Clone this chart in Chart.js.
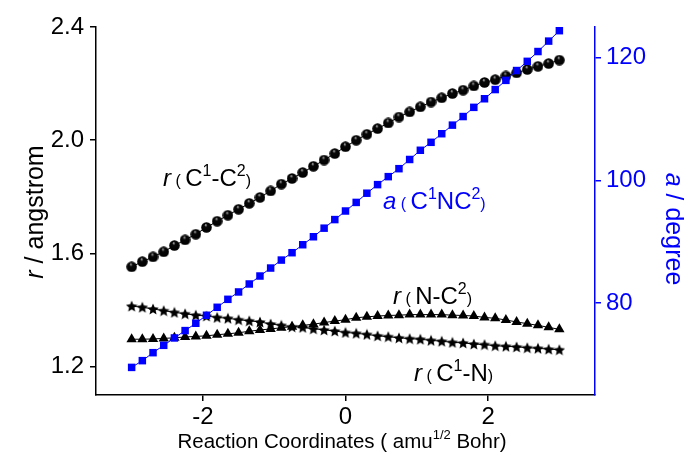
<!DOCTYPE html>
<html>
<head>
<meta charset="utf-8">
<script src="https://cdn.jsdelivr.net/npm/chart.js@4"></script>
<style>
  html, body { margin: 0; padding: 0; background: #fff; }
  #c { display: block; }
</style>
</head>
<body>
<canvas id="c" width="684" height="455"></canvas>
<script>
// ===== DATA =====
const coords = [-3, -2.85, -2.7, -2.55, -2.4, -2.25, -2.1, -1.95, -1.8, -1.65, -1.5, -1.35, -1.2, -1.05, -0.9, -0.75, -0.6, -0.45, -0.3, -0.15,
  0, 0.15, 0.3, 0.45, 0.6, 0.75, 0.9, 1.05, 1.2, 1.35, 1.5, 1.65, 1.8, 1.95, 2.1, 2.25, 2.4, 2.55, 2.7, 2.85, 3];

// r(C1-C2), angstrom
const rC1C2 = [1.553, 1.571, 1.588, 1.606, 1.628, 1.648, 1.668, 1.692, 1.714, 1.735, 1.756, 1.777, 1.798, 1.821, 1.845, 1.865, 1.886, 1.908, 1.930, 1.953,
  1.977, 2.000, 2.021, 2.041, 2.061, 2.082, 2.100, 2.118, 2.135, 2.150, 2.165, 2.177, 2.192, 2.204, 2.214, 2.227, 2.238, 2.250, 2.261, 2.271, 2.283];

// r(C1-N), angstrom
const rC1N = [1.414, 1.410, 1.404, 1.398, 1.392, 1.387, 1.382, 1.379, 1.374, 1.371, 1.366, 1.362, 1.358, 1.351, 1.346, 1.341, 1.339, 1.334, 1.330, 1.326,
  1.321, 1.318, 1.314, 1.309, 1.306, 1.302, 1.299, 1.297, 1.293, 1.290, 1.286, 1.284, 1.280, 1.278, 1.274, 1.272, 1.270, 1.267, 1.265, 1.262, 1.260];

// r(N-C2), angstrom
const rNC2 = [1.297, 1.297, 1.298, 1.300, 1.302, 1.305, 1.307, 1.309, 1.313, 1.316, 1.320, 1.325, 1.330, 1.333, 1.338, 1.341, 1.346, 1.350, 1.356, 1.361,
  1.366, 1.373, 1.376, 1.379, 1.381, 1.382, 1.384, 1.384, 1.384, 1.384, 1.382, 1.381, 1.379, 1.374, 1.371, 1.365, 1.358, 1.352, 1.346, 1.339, 1.332];

// a(C1NC2), degree
const aC1NC2 = [69.5, 70.6, 71.9, 73.1, 74.3, 75.5, 76.7, 78.0, 79.3, 80.6, 81.8, 83.1, 84.4, 85.7, 87.0, 88.2, 89.5, 90.8, 92.2, 93.6,
  95.0, 96.4, 97.9, 99.3, 100.6, 101.9, 103.4, 104.9, 106.2, 107.6, 109.0, 110.4, 111.9, 113.3, 114.8, 116.3, 117.9, 119.4, 121.0, 122.7, 124.4];

const xTicks = [-2, 0, 2];
const rTicks = [1.2, 1.6, 2.0, 2.4];
const aTicks = [80, 100, 120];

const FONT = "'Liberation Sans', Arial, sans-serif";
const BLUE = "#0000ff";

// ===== MARKERS =====
function makeBall(d) {
  const c = document.createElement("canvas");
  c.width = c.height = d;
  const g = c.getContext("2d");
  const r = d / 2;
  const grad = g.createRadialGradient(r * 0.85, r * 0.5, 0, r, r, r);
  grad.addColorStop(0, "#ffffff");
  grad.addColorStop(0.12, "#777");
  grad.addColorStop(0.3, "#080808");
  grad.addColorStop(1, "#000");
  g.fillStyle = grad;
  g.beginPath();
  g.arc(r, r, r - 0.2, 0, Math.PI * 2);
  g.fill();
  return c;
}

function makeStar(d) {
  const c = document.createElement("canvas");
  c.width = c.height = d;
  const g = c.getContext("2d");
  const cx = d / 2, cy = d / 2 + 0.6;
  g.fillStyle = "#000";
  g.beginPath();
  for (let i = 0; i < 10; i++) {
    const ang = -Math.PI / 2 + i * Math.PI / 5;
    const rr = i % 2 ? d * 0.23 : d * 0.5;
    const px = cx + Math.cos(ang) * rr, py = cy + Math.sin(ang) * rr;
    if (i === 0) g.moveTo(px, py); else g.lineTo(px, py);
  }
  g.closePath();
  g.fill();
  return c;
}

const ball = makeBall(11);
const star = makeStar(12);

const pts = vals => coords.map((x, i) => ({ x: x, y: vals[i] }));

// ===== RICH TEXT =====
function seg(t, size, opt) {
  return Object.assign({ t: t, size: size, italic: false, dy: 0 }, opt || {});
}

function drawRich(ctx, segs, x, y, color, align, angle) {
  ctx.save();
  ctx.translate(x, y);
  if (angle) ctx.rotate(angle);
  ctx.fillStyle = color;
  ctx.textBaseline = "alphabetic";
  ctx.textAlign = "left";
  let total = 0;
  segs.forEach(s => {
    ctx.font = (s.italic ? "italic " : "") + s.size + "px " + FONT;
    s.w = ctx.measureText(s.t).width;
    total += s.w;
  });
  let cx = align === "center" ? -total / 2 : 0;
  segs.forEach(s => {
    ctx.font = (s.italic ? "italic " : "") + s.size + "px " + FONT;
    ctx.fillText(s.t, cx, s.dy);
    cx += s.w;
  });
  ctx.restore();
}

const BIG = 24, SM = 16, SUP = -10;
const notes = [
  { x: 163, y: 186, color: "#000", segs: [seg("r", BIG, { italic: true }), seg(" ( ", SM), seg("C", BIG), seg("1", SM, { dy: SUP }), seg("-C", BIG), seg("2", SM, { dy: SUP }), seg(")", SM)] },
  { x: 383, y: 209, color: BLUE, segs: [seg("a", BIG, { italic: true }), seg(" ( ", SM), seg("C", BIG), seg("1", SM, { dy: SUP }), seg("NC", BIG), seg("2", SM, { dy: SUP }), seg(")", SM)] },
  { x: 393, y: 304, color: "#000", segs: [seg("r", BIG, { italic: true }), seg(" ( ", SM), seg("N-C", BIG), seg("2", SM, { dy: SUP }), seg(")", SM)] },
  { x: 414, y: 381, color: "#000", segs: [seg("r", BIG, { italic: true }), seg(" ( ", SM), seg("C", BIG), seg("1", SM, { dy: SUP }), seg("-N", BIG), seg(")", SM)] }
];

const textPlugin = {
  id: "texts",
  afterDraw(chart) {
    const ctx = chart.ctx;
    notes.forEach(n => drawRich(ctx, n.segs, n.x, n.y, n.color, "left", 0));
    // x title
    drawRich(ctx, [seg("Reaction Coordinates ( amu", 20.5), seg("1/2", 13, { dy: -9 }), seg(" Bohr)", 20.5)], 342, 448, "#000", "center", 0);
    // left title
    drawRich(ctx, [seg("r", 25, { italic: true }), seg(" / angstrom", 25)], 43, 212, "#000", "center", -Math.PI / 2);
    // right title
    drawRich(ctx, [seg("a", 25, { italic: true }), seg(" / degree", 25)], 666, 229, BLUE, "center", Math.PI / 2);
  }
};

// ===== CHART =====
new Chart(document.getElementById("c"), {
  type: "line",
  data: {
    datasets: [
      { data: pts(aC1NC2), yAxisID: "y2", borderColor: BLUE, borderWidth: 1, backgroundColor: BLUE,
        pointStyle: "rect", pointRadius: 5.3, pointBorderWidth: 0 },
      { data: pts(rC1C2), yAxisID: "y", borderColor: "#000", borderWidth: 1, pointStyle: ball },
      { data: pts(rC1N), yAxisID: "y", borderColor: "#000", borderWidth: 1, pointStyle: star },
      { data: pts(rNC2), yAxisID: "y", borderColor: "#000", borderWidth: 1, backgroundColor: "#000",
        pointStyle: "triangle", pointRadius: 6, pointBorderWidth: 0 }
    ]
  },
  options: {
    responsive: false,
    animation: false,
    devicePixelRatio: 1,
    layout: { padding: { top: 27, left: 0, right: 0, bottom: 0 } },
    plugins: { legend: { display: false }, tooltip: { enabled: false } },
    scales: {
      x: {
        type: "linear", position: "bottom", min: -3.5, max: 3.5,
        afterBuildTicks: s => { s.ticks = xTicks.map(v => ({ value: v })); },
        afterFit: s => { s.height = 60; },
        grid: { drawOnChartArea: false, tickLength: 6, color: "#000", lineWidth: 1.5 },
        border: { color: "#000", width: 1.5 },
        ticks: { color: "#000", font: { family: FONT, size: 24 }, padding: 2, callback: v => String(v) }
      },
      y: {
        type: "linear", position: "left", min: 1.1, max: 2.4,
        afterBuildTicks: s => { s.ticks = rTicks.map(v => ({ value: v })); },
        afterFit: s => { s.width = 96; },
        grid: { drawOnChartArea: false, tickLength: 6, color: "#000", lineWidth: 1.5 },
        border: { color: "#000", width: 1.5 },
        ticks: { color: "#000", font: { family: FONT, size: 24 }, padding: 6, callback: v => v.toFixed(1) }
      },
      y2: {
        type: "linear", position: "right", min: 65, max: 125,
        afterBuildTicks: s => { s.ticks = aTicks.map(v => ({ value: v })); },
        afterFit: s => { s.width = 89; },
        grid: { drawOnChartArea: false, tickLength: 6, color: BLUE, lineWidth: 1.5 },
        border: { color: BLUE, width: 1.5 },
        ticks: { color: BLUE, font: { family: FONT, size: 24 }, padding: 5, callback: v => String(v) }
      }
    }
  },
  plugins: [textPlugin]
});
</script>
</body>
</html>
